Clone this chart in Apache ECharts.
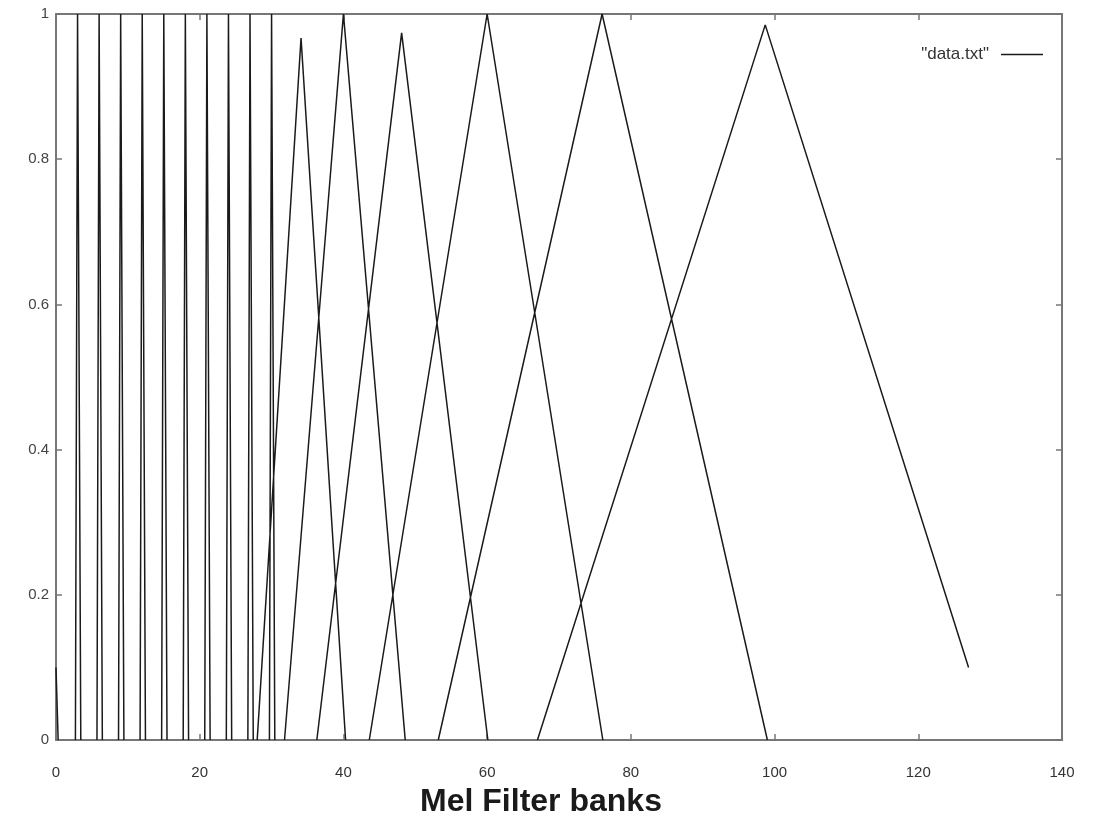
<!DOCTYPE html>
<html>
<head>
<meta charset="utf-8">
<title>Mel Filter banks</title>
<script src="https://cdn.jsdelivr.net/npm/echarts@6/dist/echarts.min.js"></script>
<style>
  html, body { margin: 0; padding: 0; background: #fff; }
  #chart { width: 1095px; height: 819px; }
</style>
</head>
<body>
<div id="chart"></div>
<script>
// filter bank: each filter is a triangle left -> peak -> right
const filterLeft = [2.7, 5.7, 8.7, 11.7, 14.7, 17.7, 20.7, 23.7, 26.7, 29.7, 28, 31.8, 36.3, 43.6, 53.2, 67]
const filterPeak = [3, 6, 9, 12, 15, 18, 21, 24, 27, 30, 34.1, 40, 48.1, 60, 76, 98.7]
const filterHeight = [1, 1, 1, 1, 1, 1, 1, 1, 1, 1, 0.967, 1, 0.974, 1, 1, 0.985]
const filterRight = [3.45, 6.45, 9.45, 12.45, 15.45, 18.45, 21.45, 24.45, 27.45, 30.45, 40.3, 48.6, 60.1, 76.1, 99, 127]
const filterRightValue = [0, 0, 0, 0, 0, 0, 0, 0, 0, 0, 0, 0, 0, 0, 0, 0.1]
// the trace starts mid-fall of a filter at x = 0
const startX = [0, 0.3]
const startY = [0.1, 0]

const xTicks = { min: 0, max: 140, interval: 20 }
const yTicks = { min: 0, max: 1, interval: 0.2 }

const seriesName = '"data.txt"'

// one trace, broken between filters so the run along y = 0 stays under the frame
const lineData = []
startX.forEach((x, i) => {
  lineData.push([x, startY[i]])
})
filterPeak.forEach((p, i) => {
  lineData.push(null)
  lineData.push([filterLeft[i], 0])
  lineData.push([p, filterHeight[i]])
  lineData.push([filterRight[i], filterRightValue[i]])
})

const font = 'Liberation Sans, Arial, sans-serif'
const frame = {
  show: true,
  onZero: false,
  lineStyle: { color: '#777', width: 2 }
}
const ticks = {
  show: true,
  inside: true,
  length: 6,
  lineStyle: { color: '#777', width: 1.5 }
}

const chart = echarts.init(document.getElementById('chart'))
chart.setOption({
  animation: false,
  backgroundColor: '#fff',
  grid: { left: 56, right: 33, top: 14, bottom: 79, outerBoundsMode: 'none', containLabel: false },
  legend: {
    data: [seriesName],
    right: 47,
    top: 41,
    align: 'right',
    icon: 'rect',
    itemWidth: 42,
    itemHeight: 1.5,
    textStyle: {
      fontFamily: font,
      fontSize: 17,
      color: '#333',
      padding: [0, 7, 0, 0]
    }
  },
  xAxis: [
    {
      type: 'value',
      position: 'bottom',
      min: xTicks.min,
      max: xTicks.max,
      interval: xTicks.interval,
      z: 3,
      axisLine: frame,
      axisTick: ticks,
      splitLine: { show: false },
      axisLabel: {
        margin: 25,
        color: '#333',
        fontSize: 15,
        fontFamily: font
      },
      name: 'Mel Filter banks',
      nameLocation: 'middle',
      nameGap: 46,
      nameTextStyle: {
        fontFamily: font,
        fontSize: 32,
        fontWeight: 'bold',
        color: '#1a1a1a',
        padding: [0, 36, 0, 0]
      }
    },
    {
      type: 'value',
      position: 'top',
      min: xTicks.min,
      max: xTicks.max,
      interval: xTicks.interval,
      z: 3,
      axisLine: frame,
      axisTick: ticks,
      splitLine: { show: false },
      axisLabel: { show: false }
    }
  ],
  yAxis: [
    {
      type: 'value',
      position: 'left',
      min: yTicks.min,
      max: yTicks.max,
      interval: yTicks.interval,
      z: 3,
      axisLine: frame,
      axisTick: ticks,
      splitLine: { show: false },
      axisLabel: {
        margin: 7,
        color: '#444',
        fontSize: 15,
        fontFamily: font
      }
    },
    {
      type: 'value',
      position: 'right',
      min: yTicks.min,
      max: yTicks.max,
      interval: yTicks.interval,
      z: 3,
      axisLine: frame,
      axisTick: ticks,
      splitLine: { show: false },
      axisLabel: { show: false }
    }
  ],
  series: [
    {
      name: seriesName,
      type: 'line',
      xAxisIndex: 0,
      yAxisIndex: 0,
      showSymbol: false,
      symbol: 'none',
      connectNulls: false,
      itemStyle: { color: '#1a1a1a' },
      lineStyle: { color: '#1a1a1a', width: 1.5 },
      data: lineData
    }
  ]
})
</script>
</body>
</html>
